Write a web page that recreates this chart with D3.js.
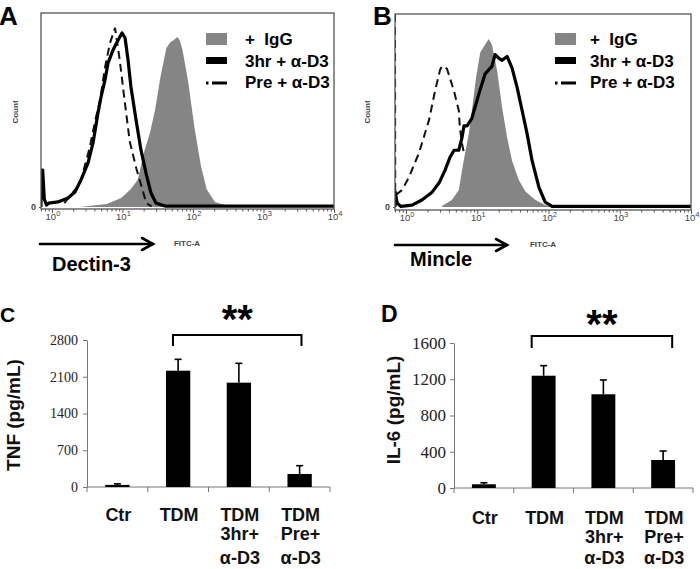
<!DOCTYPE html>
<html><head><meta charset="utf-8">
<script src="https://cdn.jsdelivr.net/npm/d3@7"></script>
<style>html,body{margin:0;padding:0;background:#fff}svg{display:block}</style>
</head><body>
<svg id="chart" width="700" height="569"></svg>
<script>
// ---------- DATA ----------
// Flow-cytometry histograms: [FITC-A intensity, % of max count]
const aIgG = [[2.5,0],[3.3,0.5],[6,1.5],[9.6,4.6],[13,9],[16.5,14],[20.5,29],[24.5,38],[29,50],[34.6,67],[42,82],[48,85],[53,86],[60,87.6],[65,86],[71,81],[86,64],[105,41],[130,21],[157,9],[205,2.6],[300,0.8],[500,0]];
const a3hr = [[0.70,0],[0.705,19],[0.74,19],[0.78,4],[0.84,1],[0.9,2],[1.22,2.6],[1.69,4.6],[2.12,7.7],[2.58,13.9],[3.25,22.7],[3.83,33],[4.5,48.5],[4.97,56.7],[5.66,65.5],[6.24,74.2],[7.35,80.9],[8.65,86],[9.86,89.7],[10.9,87.1],[12.0,75.8],[13.2,61.9],[15.6,44.8],[18.3,29.4],[21.6,17.5],[25.4,7.2],[29.9,2],[40.2,0.5],[10000,0.5]];
const aPre = [[1.5,2],[2.5,12],[3.4,30],[4.2,46],[4.81,55],[5.66,72],[6.66,84.5],[7.85,92.3],[9.15,75.8],[10.8,54],[12.7,33.7],[15.7,20],[19.6,7.9],[21.8,2],[26,0.3]];
const bIgG = [[3.2,0.5],[4.4,3.6],[5.5,8.8],[6.45,24],[7.6,38],[8.4,50],[9.6,67],[11.0,80],[13.0,84.5],[14.5,87],[16.1,84],[19,70.6],[22.3,51.7],[26.2,36],[30.8,24],[38.2,14],[47.4,8],[65.5,3.6],[90.4,1],[120,0]];
const b3hr = [[0.70,0],[0.705,7.7],[0.75,2],[0.85,0.3],[1.21,1],[1.67,3.6],[2.32,7.7],[2.9,12.4],[3.52,19],[4.14,25.8],[4.72,29.4],[5.5,29.4],[6.1,36],[6.5,42],[7.2,42],[8.4,46],[10.6,59],[12.9,69],[16.1,73],[17.8,79],[20.2,77],[22.3,76],[26.2,78],[30.8,72],[36.2,62],[42.6,50],[50,38],[58.8,24],[73.6,10],[89.5,2.6],[112,0.3],[10000,0.3]];
const bPre = [[0.70,100],[0.705,6],[0.88,8.8],[1.1,15.5],[1.52,28],[2.1,45],[2.55,60],[3.0,71],[3.2,73],[3.45,72.5],[3.76,71.6],[4.72,60],[5.5,50],[5.7,41],[6.1,33],[6.5,28]];
const histDomain = [0.7, 10000];
const histMajorTicks = [1, 10, 100, 1000, 10000];
const legendLabels = ["+\u00a0\u00a0IgG", "3hr + \u03b1-D3", "Pre + \u03b1-D3"];

// Cytokine bar charts
const categories = ["Ctr", "TDM", "TDM 3hr+", "TDM Pre+"];
const catLabels = [["Ctr"], ["TDM"], ["TDM", "3hr+", "\u03b1-D3"], ["TDM", "Pre+", "\u03b1-D3"]];
const tnfValues = [40, 2215, 1987, 248];
const tnfErrors = [20, 217, 369, 158];
const tnfTicks = [0, 700, 1400, 2100, 2800];
const il6Values = [41, 1239, 1034, 309];
const il6Errors = [17, 111, 158, 99];
const il6Ticks = [0, 400, 800, 1200, 1600];

// ---------- DRAW ----------
const svg = d3.select("#chart");
svg.append("rect").attr("width", 700).attr("height", 569).attr("fill", "#fff");
const SANS = "Liberation Sans, Arial, sans-serif";
const SERIF = "Liberation Serif, Times New Roman, serif";

function panelLetter(t, x, y, size) {
  svg.append("text").attr("x", x).attr("y", y).attr("font-family", SANS).attr("font-weight", "bold")
    .attr("font-size", size).attr("fill", "#000").text(t);
}

function drawHist(cfg) {
  const x = d3.scaleLog().domain(histDomain).range([cfg.left, cfg.right]);
  const y = d3.scaleLinear().domain([0, 100]).range([cfg.base, cfg.top]);
  const g = svg.append("g");
  const clipId = "clip" + cfg.id;
  svg.append("clipPath").attr("id", clipId).append("rect")
    .attr("x", cfg.left).attr("y", cfg.top - 1).attr("width", cfg.right - cfg.left).attr("height", cfg.bottom - cfg.top + 1);
  const pg = g.append("g").attr("clip-path", `url(#${clipId})`);
  pg.append("path").datum(cfg.igg)
    .attr("d", d3.area().x(d => x(d[0])).y0(y(0)).y1(d => y(d[1])))
    .attr("fill", "#858585");
  pg.append("path").datum(cfg.pre)
    .attr("d", d3.line().x(d => x(d[0])).y(d => y(d[1])))
    .attr("fill", "none").attr("stroke", "#111").attr("stroke-width", 2).attr("stroke-dasharray", "8,5");
  pg.append("path").datum(cfg.hr3)
    .attr("d", d3.line().x(d => x(d[0])).y(d => y(d[1])))
    .attr("fill", "none").attr("stroke", "#000").attr("stroke-width", 3.2).attr("stroke-linejoin", "round");
  g.append("rect").attr("x", cfg.left).attr("y", cfg.top).attr("width", cfg.right - cfg.left).attr("height", cfg.bottom - cfg.top)
    .attr("fill", "none").attr("stroke", "#555").attr("stroke-width", 1.3);
  const ax = g.append("g").attr("transform", `translate(0,${cfg.bottom})`)
    .call(d3.axisBottom(x).ticks(40).tickSize(3).tickFormat(""));
  ax.select(".domain").remove();
  ax.selectAll(".tick line").attr("stroke", "#555").attr("y2", d => histMajorTicks.includes(d) ? 4 : 2.5);
  histMajorTicks.forEach(v => {
    const t = g.append("text").attr("x", x(v) + 1).attr("y", cfg.bottom + 11).attr("text-anchor", "middle")
      .attr("font-family", SANS).attr("font-size", 9.5).attr("fill", "#444");
    t.append("tspan").text("10");
    t.append("tspan").attr("dy", -4).attr("font-size", 7.5).text(Math.round(Math.log10(v)));
  });
  const ay = g.append("g").attr("transform", `translate(${cfg.left},0)`)
    .call(d3.axisLeft(y).tickValues([0]).tickSize(2).tickPadding(3));
  ay.select(".domain").remove();
  ay.selectAll("text").attr("font-family", SANS).attr("font-weight", "bold").attr("font-size", 9).attr("fill", "#444");
  ay.selectAll("line").attr("stroke", "#555");
  g.append("text").attr("transform", `translate(${cfg.countX},${cfg.countY}) rotate(-90)`).attr("text-anchor", "middle")
    .attr("font-family", SANS).attr("font-weight", "bold").attr("font-size", 8).attr("fill", "#444").text("Count");
  g.append("text").attr("x", cfg.fitcX).attr("y", cfg.fitcY).attr("text-anchor", "middle")
    .attr("font-family", SANS).attr("font-weight", "bold").attr("font-size", 8).attr("fill", "#444").text("FITC-A");
  const ar = g.append("g").attr("stroke", "#000").attr("stroke-width", 2.6).attr("fill", "none").attr("stroke-linecap", "round");
  ar.append("line").attr("x1", cfg.arrowX1).attr("x2", cfg.arrowX2).attr("y1", cfg.arrowY).attr("y2", cfg.arrowY);
  ar.append("path").attr("d", `M${cfg.arrowX2 - 11},${cfg.arrowY - 6}L${cfg.arrowX2},${cfg.arrowY}L${cfg.arrowX2 - 11},${cfg.arrowY + 6}`);
  g.append("text").attr("x", cfg.markerX).attr("y", cfg.markerY).attr("font-family", SANS).attr("font-weight", "bold")
    .attr("font-size", 20).attr("fill", "#000").text(cfg.marker);
  const lx = cfg.legX;
  g.append("rect").attr("x", lx).attr("y", 33).attr("width", 21).attr("height", 12).attr("fill", "#858585");
  g.append("rect").attr("x", lx).attr("y", 57).attr("width", 21).attr("height", 7).attr("fill", "#000");
  g.append("rect").attr("x", lx).attr("y", 81.5).attr("width", 2.5).attr("height", 3).attr("fill", "#000");
  g.append("rect").attr("x", lx + 6).attr("y", 81.5).attr("width", 15).attr("height", 3).attr("fill", "#000");
  legendLabels.forEach((l, i) => {
    g.append("text").attr("x", cfg.legTextX).attr("y", [45, 66.5, 87.5][i]).attr("font-family", SANS).attr("font-weight", "bold")
      .attr("font-size", 17).attr("fill", "#000").text(l);
  });
}

drawHist({id: "A", left: 41, right: 334, top: 13, bottom: 209, base: 207, igg: aIgG, hr3: a3hr, pre: aPre,
  countX: 18, countY: 112, fitcX: 187, fitcY: 246, arrowX1: 40, arrowX2: 153, arrowY: 244,
  marker: "Dectin-3", markerX: 52, markerY: 271, legX: 206, legTextX: 245});
drawHist({id: "B", left: 395, right: 691, top: 14, bottom: 210, base: 207, igg: bIgG, hr3: b3hr, pre: bPre,
  countX: 370, countY: 112, fitcX: 543, fitcY: 247, arrowX1: 395, arrowX2: 507, arrowY: 245,
  marker: "Mincle", markerX: 410, markerY: 266, legX: 555, legTextX: 590});

panelLetter("A", -1, 25, 26);
panelLetter("B", 373, 25, 26);
panelLetter("C", 0, 322, 21);
panelLetter("D", 381, 322, 23);

function drawBars(cfg) {
  const x = d3.scaleBand().domain(categories).range([cfg.x0, cfg.x1]).paddingInner(0.6).paddingOuter(0.3);
  const y = d3.scaleLinear().domain([0, cfg.ticks[cfg.ticks.length - 1]]).range([cfg.y0, cfg.yTop]);
  const g = svg.append("g");
  const ay = g.append("g").attr("transform", `translate(${cfg.x0},0)`)
    .call(d3.axisLeft(y).tickValues(cfg.ticks).tickFormat(d3.format("d")).tickSize(4).tickPadding(cfg.tickPad).tickSizeOuter(0));
  ay.select(".domain").attr("stroke", "#777");
  ay.selectAll("line").attr("stroke", "#777");
  ay.selectAll("text").attr("font-family", SERIF).attr("font-size", cfg.tickFont).attr("fill", "#222");
  g.append("line").attr("x1", cfg.x0).attr("x2", cfg.x1).attr("y1", cfg.y0).attr("y2", cfg.y0).attr("stroke", "#777");
  d3.range(categories.length + 1).forEach(i => {
    const xx = cfg.x0 + i * x.step();
    g.append("line").attr("x1", xx).attr("x2", xx).attr("y1", cfg.y0).attr("y2", cfg.y0 + 5).attr("stroke", "#777");
  });
  g.selectAll(".bar").data(cfg.values).join("rect")
    .attr("x", (d, i) => x(categories[i])).attr("width", x.bandwidth())
    .attr("y", d => y(d)).attr("height", d => y(0) - y(d)).attr("fill", "#000");
  cfg.values.forEach((v, i) => {
    const cx = x(categories[i]) + x.bandwidth() / 2;
    const top = y(v + cfg.errors[i]);
    g.append("line").attr("x1", cx).attr("x2", cx).attr("y1", y(v)).attr("y2", top).attr("stroke", "#000").attr("stroke-width", 1.6);
    g.append("line").attr("x1", cx - 3.5).attr("x2", cx + 3.5).attr("y1", top).attr("y2", top).attr("stroke", "#000").attr("stroke-width", 1.6);
  });
  catLabels.forEach((lines, i) => {
    const cx = x(categories[i]) + x.bandwidth() / 2 + 1;
    lines.forEach((l, j) => {
      g.append("text").attr("x", cx).attr("y", cfg.labelY[j]).attr("text-anchor", "middle")
        .attr("font-family", SANS).attr("font-weight", "bold").attr("font-size", 18).attr("fill", "#111").text(l);
    });
  });
  g.append("text").attr("transform", `translate(${cfg.titleX},${cfg.titleY}) rotate(-90)`).attr("text-anchor", "middle")
    .attr("font-family", SANS).attr("font-weight", "bold").attr("font-size", 19).attr("fill", "#111").text(cfg.title);
  const bl = x(categories[1]) + cfg.brL, br = x(categories[3]) + cfg.brR;
  g.append("path").attr("d", `M${bl},${cfg.brBottom}V${cfg.brTop}H${br}V${cfg.brBottom}`)
    .attr("fill", "none").attr("stroke", "#000").attr("stroke-width", 2);
  g.append("text").attr("x", (bl + br) / 2).attr("y", cfg.starY).attr("text-anchor", "middle")
    .attr("font-family", SANS).attr("font-weight", "bold").attr("font-size", 40).attr("fill", "#000").text("**");
}

drawBars({x0: 87, x1: 330, y0: 487, yTop: 340, ticks: tnfTicks, values: tnfValues, errors: tnfErrors,
  tickFont: 14, tickPad: 5, labelY: [521, 540, 564], title: "TNF (pg/mL)", titleX: 20, titleY: 415,
  brL: 7, brR: 14, brTop: 335, brBottom: 346, starY: 333});
drawBars({x0: 454, x1: 693, y0: 488, yTop: 343, ticks: il6Ticks, values: il6Values, errors: il6Errors,
  tickFont: 17, tickPad: 4, labelY: [524, 543, 564], title: "IL-6 (pg/mL)", titleX: 400, titleY: 410,
  brL: 0, brR: 21, brTop: 336, brBottom: 348, starY: 338});
</script>
</body></html>
